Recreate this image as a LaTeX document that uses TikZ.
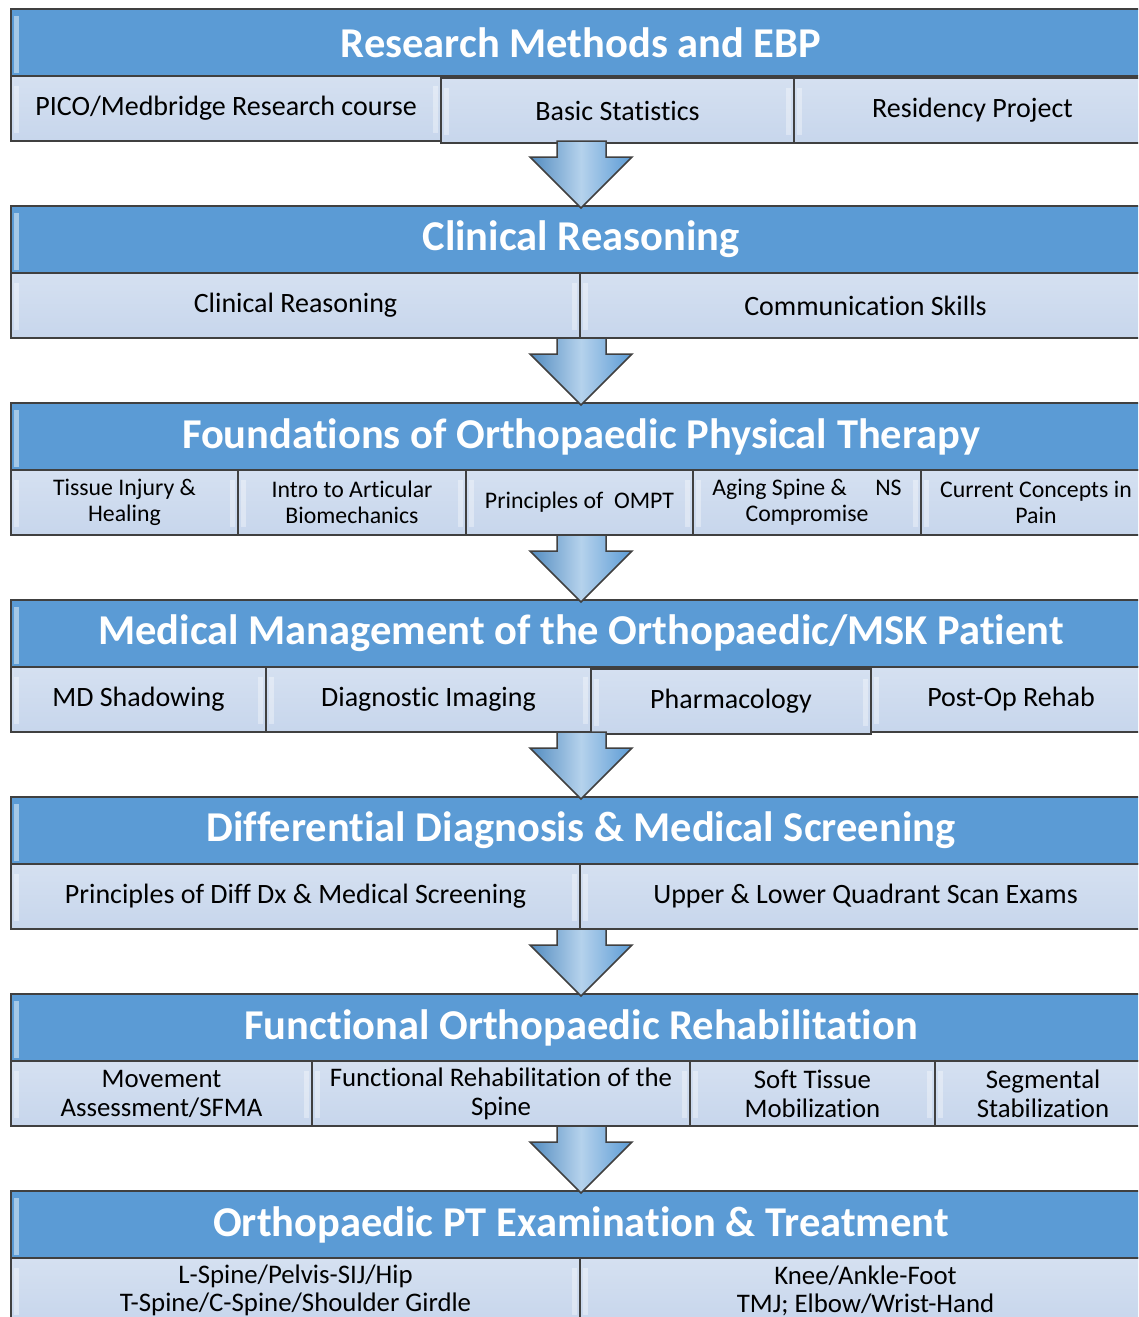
\documentclass[tikz,border=0pt]{standalone}
\usepackage{fontspec}
\setmainfont{Carlito}[Ligatures={NoCommon,NoRare,NoContextual}]
\usepackage{xcolor}
\definecolor{hdrblue}{RGB}{91,155,213}
\definecolor{cellblue}{RGB}{199,214,236}
\definecolor{rim}{RGB}{64,64,64}

\begin{document}
\begin{tikzpicture}[x=1pt, y=-1pt,
  hdr/.style={draw=rim, line width=2pt, fill=hdrblue, text=white, anchor=north west, inner sep=0pt,
    minimum width=1140pt, minimum height=67pt, font=\fontsize{42.5}{45}\selectfont\bfseries,
    path picture={\fill[white, opacity=.45] ([xshift=3pt, yshift=-7pt]path picture bounding box.north west) rectangle ([xshift=8pt, yshift=3pt]path picture bounding box.south west);}},
  cell/.style={draw=rim, line width=2pt, top color=cellblue!75!white, bottom color=cellblue, anchor=north west,
    inner sep=2pt, align=center, minimum height=65pt, font=\fontsize{28}{31}\selectfont,
    path picture={\fill[white, opacity=.35] ([xshift=3pt, yshift=-10pt]path picture bounding box.north west) rectangle ([xshift=8pt, yshift=8pt]path picture bounding box.south west);
      \fill[white, opacity=.35] ([xshift=-3pt, yshift=-10pt]path picture bounding box.north east) rectangle ([xshift=-8pt, yshift=8pt]path picture bounding box.south east);}},
  small/.style={font=\fontsize{23.8}{26}\selectfont},
  twoline/.style={font=\fontsize{26.8}{29}\selectfont},
  down/.style={draw=rim, line width=1.5pt, line join=miter, left color=hdrblue!90!black, right color=hdrblue, middle color=hdrblue!45!white}]

\clip (0,0) rectangle (1138,1317);
\fill[white] (0,0) rectangle (1138,1317);

\node[hdr] (h0) at (10,8) {Research Methods and EBP};
\node[cell, minimum width=430pt] (pico) at (10,75) {PICO/Medbridge Research course};
\node[cell, minimum width=353pt] (stats) at (440,77) {Basic Statistics};
\node[cell, minimum width=357pt] (project) at (793,77) {Residency Project};

\node[hdr] (h1) at (10,205) {Clinical Reasoning};
\node[cell, minimum width=569pt] (reason) at (10,272) {Clinical Reasoning};
\node[cell, minimum width=571pt] (comm) at (579,272) {Communication Skills};

\node[hdr] (h2) at (10,402) {Foundations of Orthopaedic Physical Therapy};
\node[cell, small, minimum width=227pt] (tissue) at (10,469) {Tissue Injury \&\\Healing};
\node[cell, small, minimum width=228pt] (biomech) at (237,469) {Intro to Articular\\Biomechanics};
\node[cell, small, minimum width=227pt] (ompt) at (465,469) {Principles of\ \ OMPT};
\node[cell, small, minimum width=228pt] (aging) at (692,469) {Aging Spine \&\hspace{1.2em}NS\\Compromise};
\node[cell, small, minimum width=230pt] (pain) at (920,469) {Current Concepts in\\Pain};

\node[hdr] (h3) at (10,599) {Medical Management of the Orthopaedic/MSK Patient};
\node[cell, minimum width=255pt] (shadow) at (10,666) {MD Shadowing};
\node[cell, minimum width=325pt] (imaging) at (265,666) {Diagnostic Imaging};
\node[cell, minimum width=280pt] (pharma) at (590,668) {Pharmacology};
\node[cell, minimum width=280pt] (postop) at (870,666) {Post-Op Rehab};

\node[hdr] (h4) at (10,796) {Differential Diagnosis \& Medical Screening};
\node[cell, minimum width=569pt] (diffdx) at (10,863) {Principles of Diff Dx \& Medical Screening};
\node[cell, minimum width=571pt] (scan) at (579,863) {Upper \& Lower Quadrant Scan Exams};

\node[hdr] (h5) at (10,993) {Functional Orthopaedic Rehabilitation};
\node[cell, twoline, minimum width=301pt] (sfma) at (10,1060) {Movement\\Assessment/SFMA};
\node[cell, twoline, minimum width=378pt] (spine) at (311,1060) {Functional Rehabilitation of the\\Spine};
\node[cell, twoline, minimum width=245pt] (stm) at (689,1060) {Soft Tissue\\Mobilization};
\node[cell, twoline, minimum width=216pt] (stab) at (934,1060) {Segmental\\Stabilization};

\node[hdr] (h6) at (10,1190) {Orthopaedic PT Examination \& Treatment};
\node[cell, font=\fontsize{26.8}{28}\selectfont, minimum width=569pt] (upper) at (10,1257) {L-Spine/Pelvis-SIJ/Hip\\T-Spine/C-Spine/Shoulder Girdle};
\node[cell, font=\fontsize{26.8}{28}\selectfont, minimum width=571pt] (lower) at (579,1257) {Knee/Ankle-Foot\\TMJ; Elbow/Wrist-Hand};

\foreach \k in {0,...,5}
  \path[down, yshift=-197*\k] (557,141) -- (557,157) -- (530,157) -- (581,208) -- (632,157) -- (606,157) -- (606,141) -- cycle;
\end{tikzpicture}
\end{document}
